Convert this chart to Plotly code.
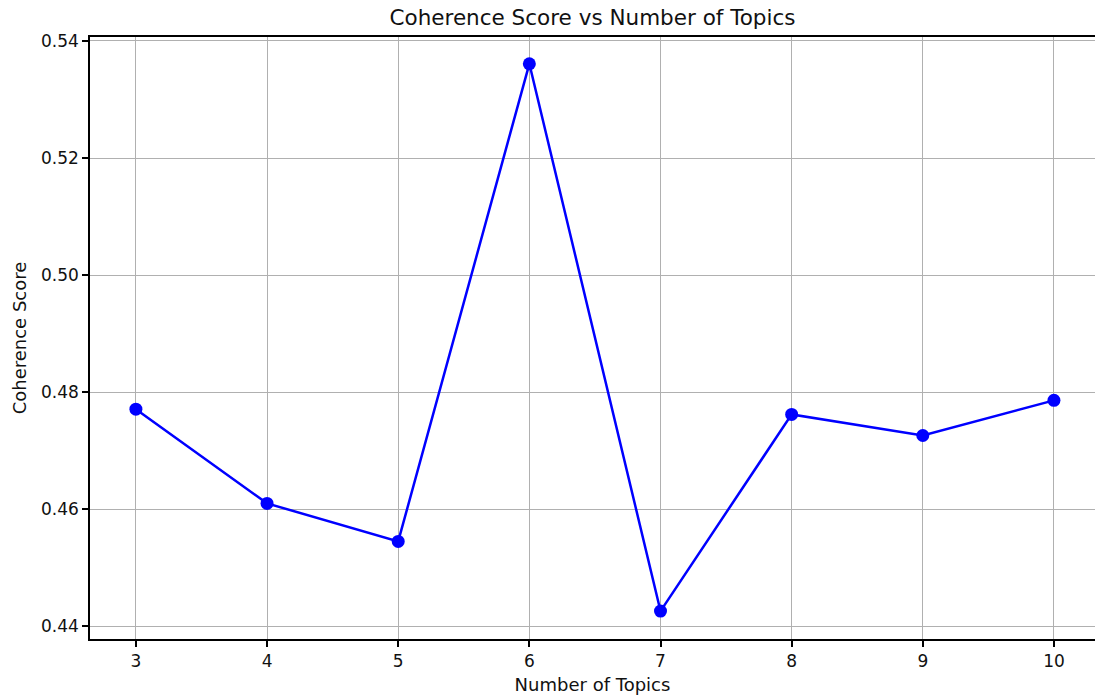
import plotly.graph_objects as go

topics = [3, 4, 5, 6, 7, 8, 9, 10]
coherence = [0.4771, 0.4610, 0.4545, 0.5361, 0.4426, 0.4762, 0.4726, 0.4786]
y_ticks = [0.44, 0.46, 0.48, 0.50, 0.52, 0.54]

fig = go.Figure()
fig.add_trace(go.Scatter(
    x=topics, y=coherence, mode="lines+markers",
    line=dict(color="#0000ff", width=2.5),
    marker=dict(color="#0000ff", size=13),
))

font = "DejaVu Sans, sans-serif"
fig.update_layout(
    width=1095, height=700,
    margin=dict(l=90, r=0, t=37, b=61),
    paper_bgcolor="white", plot_bgcolor="white",
    showlegend=False,
    font=dict(family=font, size=17, color="#111"),
    title=dict(text="Coherence Score vs Number of Topics", x=0.5, xref="paper",
               xanchor="center", y=1 - 17 / 700, yref="container", yanchor="middle",
               font=dict(size=21.5, color="#111", family=font)),
)
fig.update_xaxes(
    range=[2.65, 10.313], tickmode="array", tickvals=topics,
    ticktext=[str(t) for t in topics],
    showgrid=True, gridcolor="#b0b0b0", gridwidth=1.2,
    showline=True, linecolor="black", linewidth=1.5, mirror=True,
    ticks="outside", ticklen=6, tickcolor="black", tickwidth=1.5,
    zeroline=False,
    title=dict(text="Number of Topics", standoff=8, font=dict(size=18)),
)
fig.update_yaxes(
    range=[0.43783, 0.54068], tickmode="array", tickvals=y_ticks,
    ticktext=[f"{v:.2f}" for v in y_ticks],
    showgrid=True, gridcolor="#b0b0b0", gridwidth=1.2,
    showline=True, linecolor="black", linewidth=1.5,
    ticks="outside", ticklen=6, tickcolor="black", tickwidth=1.5,
    zeroline=False,
    title=dict(text="Coherence Score", standoff=10, font=dict(size=18)),
)

fig.write_html("out.html", config={"displayModeBar": False},
               post_script="document.body.style.margin='0';")
